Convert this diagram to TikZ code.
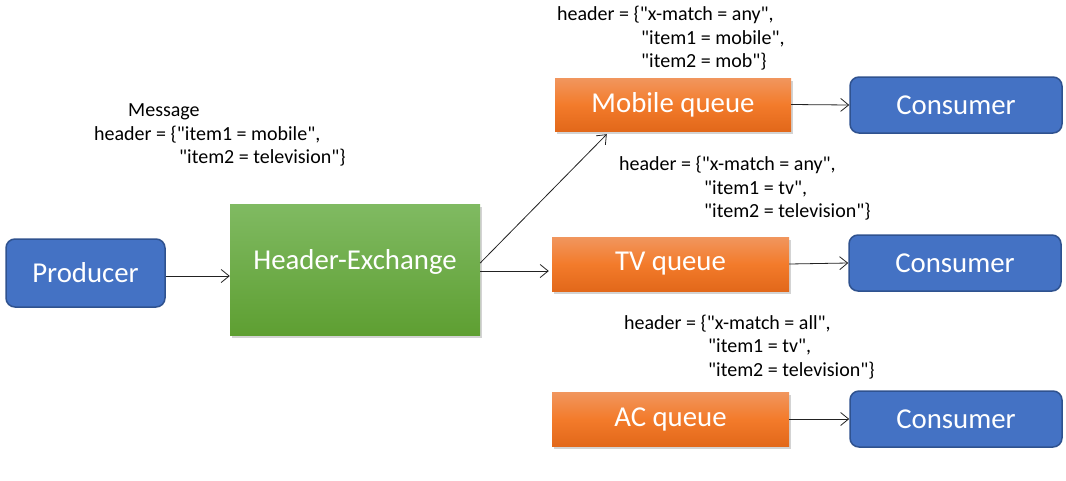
\documentclass[tikz,border=0pt]{standalone}
\usepackage{fontspec}
\setmainfont{Carlito}[Ligatures=TeXOff]
\usetikzlibrary{arrows.meta,shadows,calc}
\definecolor{bluefill}{HTML}{4472C4}
\definecolor{blueline}{HTML}{2F528F}
\definecolor{orgtop}{HTML}{F1965E}
\definecolor{orgmid}{HTML}{F37B2B}
\definecolor{orgbot}{HTML}{E2681A}
\definecolor{grntop}{HTML}{80BA62}
\definecolor{grnbot}{HTML}{5E9F32}
\definecolor{arrowcol}{HTML}{222222}
\tikzset{
  bluebox/.style={draw=blueline, line width=1.5pt, fill=bluefill, rounded corners=9pt,
    text=white, inner sep=0pt, font=\fontsize{28.8}{34}\selectfont},
  queuebox/.style={top color=orgtop, bottom color=orgbot, middle color=orgmid,
    minimum width=237pt, minimum height=54pt, inner sep=0pt, text=white,
    font=\fontsize{28.8}{34}\selectfont,
    drop shadow={opacity=0.35, shadow xshift=2pt, shadow yshift=-3pt}},
  exbox/.style={top color=grntop, bottom color=grnbot,
    minimum width=250pt, minimum height=131pt, inner sep=0pt, text=white,
    drop shadow={opacity=0.35, shadow xshift=2pt, shadow yshift=-3pt}},
  lbl/.style={font=\fontsize{28.8}{34}\selectfont, text=white, inner sep=0pt},
  note/.style={anchor=base west, inner sep=0pt, font=\fontsize{20}{24}\selectfont},
  arr/.style={-{Straight Barb[length=8pt,width=13pt]}, line width=0.8pt, draw=arrowcol}
}
\begin{document}
\begin{tikzpicture}[x=1pt,y=-1pt]
\useasboundingbox (0,0) rectangle (1066,480);
% nodes
\node[bluebox, minimum width=159pt, minimum height=68pt] (p) at (85.5,273) {Producer};
\node[exbox] (hx) at (355,269.5) {};
\node[lbl] (hxl) at (355,262) {Header-Exchange};
\node[queuebox, minimum width=236pt, minimum height=53pt] (mq) at (673,104.5) {Mobile queue};
\node[queuebox] (tq) at (670.5,264) {TV queue};
\node[queuebox] (aq) at (670.5,419) {AC queue};
\node[bluebox, minimum width=212pt, minimum height=56pt] (c1) at (956,105) {Consumer};
\node[bluebox, minimum width=212pt, minimum height=56pt] (c2) at (955,263) {Consumer};
\node[bluebox, minimum width=212pt, minimum height=56pt] (c3) at (956,419) {Consumer};
% notes
\node[note] (m1) at (128,116) {Message};
\node[note] (m2) at (94,140) {header = \{"item1 = mobile",};
\node[note] (m3) at (179,163) {"item2 = television"\}};
\node[note] (a1) at (557,20) {header = \{"x-match = any",};
\node[note] (a2) at (641,44) {"item1 = mobile",};
\node[note] (a3) at (641,67) {"item2 = mob"\}};
\node[note] (b1) at (619,170) {header = \{"x-match = any",};
\node[note] (b2) at (704,194) {"item1 = tv",};
\node[note] (b3) at (704,217) {"item2 = television"\}};
\node[note] (d1) at (624,329) {header = \{"x-match = all",};
\node[note] (d2) at (708,352) {"item1 = tv",};
\node[note] (d3) at (708,376) {"item2 = television"\}};
% connectors
\coordinate (pa) at ([yshift=-3pt]p.east);
\draw[arr] (pa) -- (pa -| hx.west);
\coordinate (hxa) at ([yshift=6.5pt]hx.east);
\coordinate (hxb) at ([yshift=-1.5pt]hx.east);
\draw[arr] (hxb) -- ($(hxb -| tq.west)+(-3,0)$);
\coordinate (mqin) at ($(mq.south west)+(52,3)$);
\draw[arr] (hxa) -- (mqin);
\draw[arr] (mq.east) -- (c1.west);
\draw[arr] (tq.east) -- (c2.west);
\draw[arr] (aq.east) -- (c3.west);
\end{tikzpicture}
\end{document}
